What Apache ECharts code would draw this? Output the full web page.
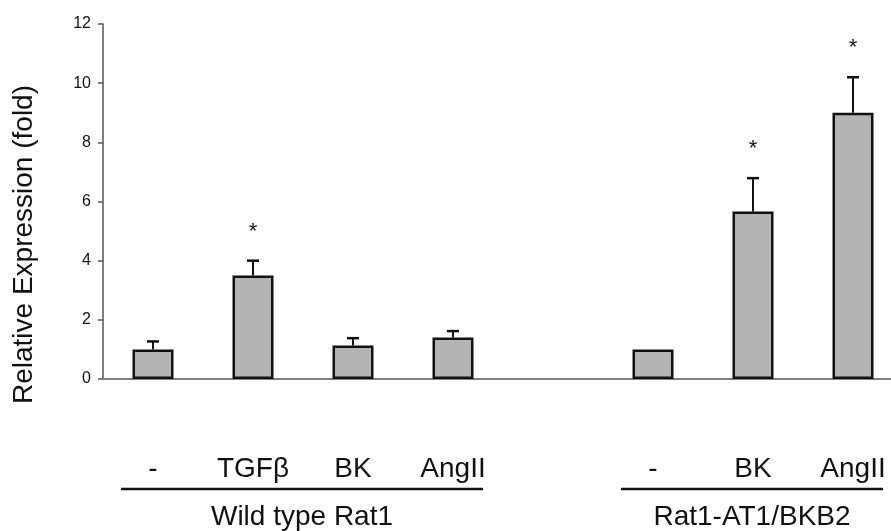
<!DOCTYPE html>
<html><head><meta charset="utf-8">
<script src="https://cdn.jsdelivr.net/npm/echarts@6/dist/echarts.min.js"></script>
<style>html,body{margin:0;padding:0;background:#fff}#c{width:891px;height:531px}</style>
</head><body><div id="c"></div>
<script>
// ---- data ----
const categories = ['-', 'TGFβ', 'BK', 'AngII', '', '-', 'BK', 'AngII'];   // '' = gap between groups
const values     = [1.0, 3.5, 1.13, 1.4, null, 1.0, 5.66, 9.0];
const errors     = [0.27, 0.5, 0.25, 0.22, null, 0, 1.13, 1.2];
const significant= [false, true, false, false, false, false, true, true];
const groups     = ['Wild type Rat1', 'Rat1-AT1/BKB2'];
const groupRanges= [[0, 3], [5, 7]];
const yTicks     = [0, 2, 4, 6, 8, 10, 12];
const yTitle     = 'Relative Expression (fold)';

const FONT = '"Liberation Sans", Arial, Helvetica, sans-serif';
const chart = echarts.init(document.getElementById('c'), null, {renderer: 'canvas'});

const barData = [];
const errData = [];
const labelIdx = [];
categories.forEach((c, i) => {
  if (c !== '') labelIdx.push(i);
  if (values[i] != null) {
    barData.push([i, values[i]]);
    errData.push([i, values[i], errors[i], significant[i] ? 1 : 0]);
  }
});

chart.setOption({
  animation: false,
  backgroundColor: '#fff',
  grid: {left: 103, right: 0, top: 24, bottom: 152, containLabel: false},
  xAxis: {
    type: 'value',
    min: -0.5, max: 7.38,
    axisLine: {show: true, onZero: false, lineStyle: {color: '#808080', width: 2}},
    axisTick: {show: false},
    axisLabel: {
      customValues: labelIdx,
      formatter: function (v) { return categories[Math.round(v)]; },
      margin: 76, color: '#111', fontSize: 28, fontFamily: FONT
    },
    splitLine: {show: false}
  },
  yAxis: {
    type: 'value',
    min: yTicks[0], max: yTicks[yTicks.length - 1], interval: yTicks[1] - yTicks[0],
    axisLine: {show: true, onZero: false, lineStyle: {color: '#555', width: 1.5}},
    axisTick: {show: true, inside: false, length: 5, lineStyle: {color: '#555', width: 1.5}},
    axisLabel: {margin: 12, color: '#111', fontSize: 16, fontFamily: FONT},
    splitLine: {show: false}
  },
  series: [
    {
      type: 'bar',
      data: barData,
      barWidth: 41,
      itemStyle: {color: '#b4b4b4', borderColor: '#111', borderWidth: 2.5},
      z: 2
    },
    {
      type: 'custom',
      data: errData,
      z: 3,
      renderItem: function (params, api) {
        const x = api.value(0), v = api.value(1), e = api.value(2), s = api.value(3);
        const p0 = api.coord([x, v]);
        const p1 = api.coord([x, v + e]);
        const children = [];
        if (e > 0) {
          children.push({type: 'line', shape: {x1: p0[0], y1: p0[1], x2: p1[0], y2: p1[1]}, style: {stroke: '#111', lineWidth: 2}});
          children.push({type: 'line', shape: {x1: p1[0] - 6, y1: p1[1], x2: p1[0] + 6, y2: p1[1]}, style: {stroke: '#111', lineWidth: 2.5}});
        }
        if (s) {
          children.push({type: 'text', x: p1[0], y: p1[1] - 29, style: {text: '*', fontSize: 22, fontFamily: FONT, fill: '#111', align: 'center', verticalAlign: 'middle'}});
        }
        return {type: 'group', children: children};
      }
    }
  ]
});

function drawExtras() {
  const g = [];
  const yBase = chart.convertToPixel({yAxisIndex: 0}, 0);
  const yTop = chart.convertToPixel({yAxisIndex: 0}, yTicks[yTicks.length - 1]);
  // y-axis title
  g.push({type: 'text', x: 24, y: (yBase + yTop) / 2 + 43, rotation: Math.PI / 2,
          style: {text: yTitle, fontSize: 28, fontFamily: FONT, fill: '#111', align: 'center', verticalAlign: 'middle'}});
  groupRanges.forEach((r, k) => {
    const x1 = chart.convertToPixel({xAxisIndex: 0}, r[0]) - 32;
    const x2 = chart.convertToPixel({xAxisIndex: 0}, r[1]) + 30;
    g.push({type: 'line', shape: {x1: x1, y1: yBase + 110, x2: x2, y2: yBase + 110}, style: {stroke: '#111', lineWidth: 2.5}});
    g.push({type: 'text', x: (x1 + x2) / 2, y: yBase + 138, style: {text: groups[k], fontSize: 28, fontFamily: FONT, fill: '#111', align: 'center', verticalAlign: 'middle'}});
  });
  chart.setOption({graphic: g});
}
drawExtras();
</script>
</body></html>
